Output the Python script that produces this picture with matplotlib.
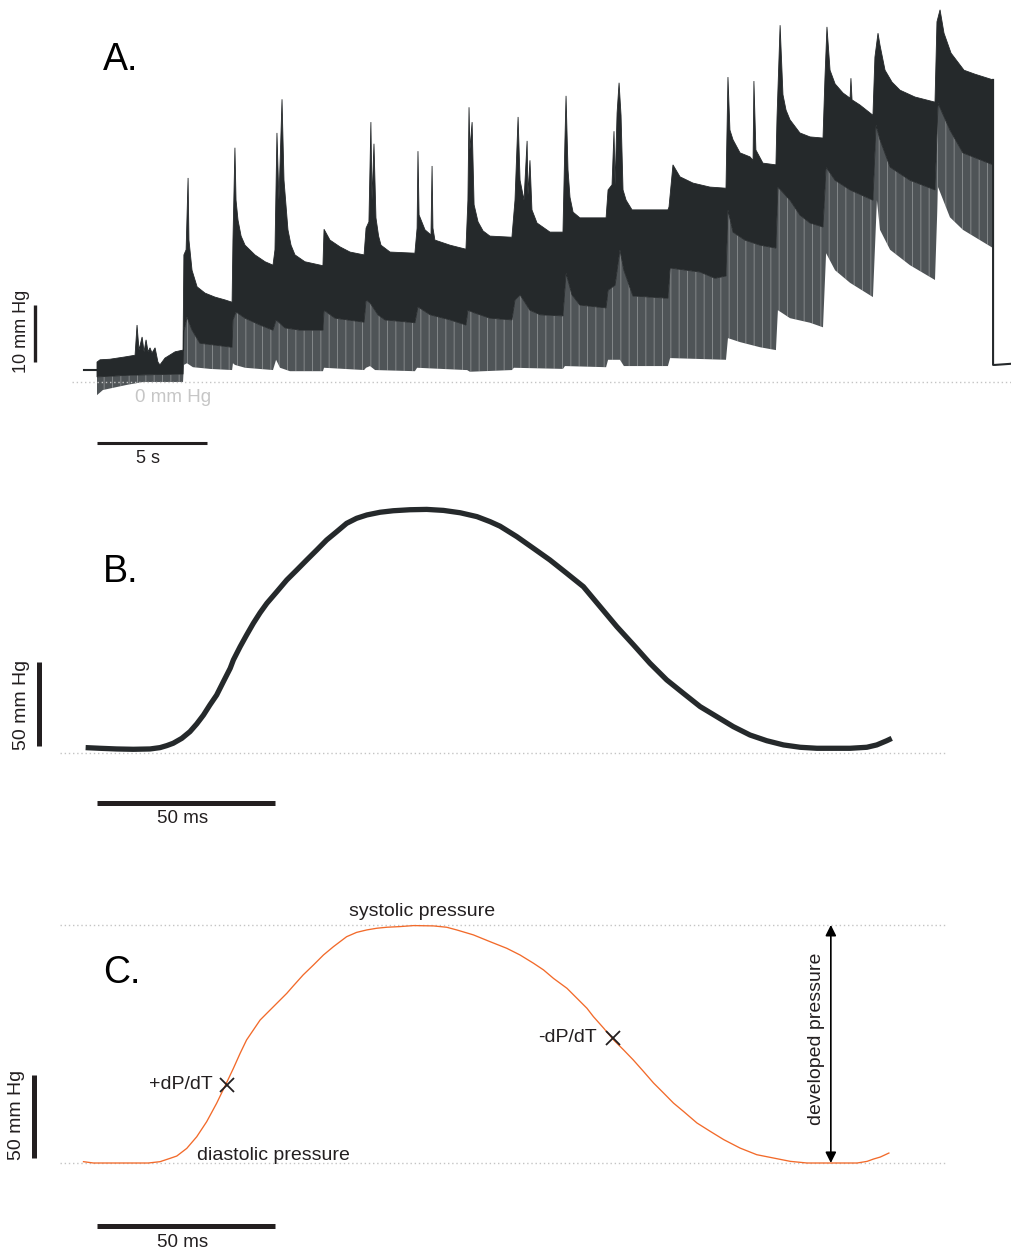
import numpy as np
import matplotlib
matplotlib.use("Agg")
import matplotlib.pyplot as plt

plt.rcParams['font.family'] = ['Liberation Sans', 'DejaVu Sans']
plt.rcParams['hatch.linewidth'] = 0.7

TRACE = '#25292b'
LOWER = '#4f5457'
TEXT = '#231f20'
DOTS = '#c4c4c4'
ORANGE = '#f26a2a'

# ---- panel A: long recording, envelopes of the beat-to-beat trace (s, mmHg)
top_t = [0.0, 0.14, 0.59, 1.27, 1.73, 1.82, 1.91, 2.05, 2.14, 2.23, 2.32, 2.41, 2.5, 2.64, 2.77, 2.86, 3.09, 3.55, 3.91,
         3.95, 4.05, 4.14, 4.18, 4.32, 4.55, 4.91, 5.36, 5.82, 6.14,
         6.18, 6.27, 6.32, 6.41, 6.55, 6.73, 7.18, 7.64, 8.0,
         8.09, 8.18, 8.27, 8.41, 8.5, 8.68, 8.82, 9.0, 9.45, 10.27,
         10.32, 10.59, 11.05, 11.5, 12.14,
         12.23, 12.36, 12.45, 12.5, 12.59, 12.68, 12.8, 12.91, 13.32, 14.45,
         14.55, 14.59, 14.64, 14.91, 15.18, 15.23, 15.27, 15.36, 16.05, 16.77,
         16.86, 16.91, 16.95, 17.05, 17.14, 17.32, 17.55, 17.86, 18.86,
         19.0, 19.14, 19.23, 19.41, 19.55, 19.59, 19.68, 19.77, 20.0, 20.59, 21.18,
         21.27, 21.32, 21.41, 21.5, 21.64, 21.95, 23.14,
         23.23, 23.41, 23.5, 23.55, 23.64, 23.73, 23.82, 23.91, 24.05, 24.32, 25.95,
         26.0, 26.18, 26.5, 27.09, 27.86, 28.59,
         28.68, 28.77, 28.91, 29.23, 29.68, 29.82, 29.86, 29.95, 30.27, 30.86,
         30.91, 31.05, 31.18, 31.32, 31.5, 31.95, 32.41, 33.0,
         33.09, 33.18, 33.32, 33.55, 33.91, 34.23, 34.27, 34.32, 34.68, 35.27,
         35.36, 35.5, 35.59, 35.82, 36.14, 36.5, 37.18, 38.09,
         38.18, 38.32, 38.5, 38.82, 39.41, 39.91, 40.73]
top_p = [3.5, 3.9, 4.0, 4.4, 4.7, 10.0, 5.6, 7.9, 5.3, 7.4, 5.3, 6.0, 5.1, 6.0, 3.5, 3.0, 4.2, 5.3, 5.6,
         22.3, 23.2, 35.8, 24.9, 19.6, 16.7, 15.6, 14.9, 14.4, 14.0,
         24.9, 41.1, 31.9, 28.4, 25.6, 24.0, 22.3, 21.1, 20.5,
         23.2, 43.7, 31.9, 49.6, 35.4, 26.7, 24.0, 22.3, 21.1, 20.4,
         26.8, 24.9, 23.7, 22.8, 22.3,
         27.0, 28.1, 45.6, 31.9, 41.8, 28.8, 25.6, 24.0, 22.8, 22.6,
         27.0, 40.5, 29.3, 26.7, 25.8, 37.9, 27.0, 24.9, 24.0, 23.3,
         31.9, 48.2, 40.7, 45.6, 31.1, 28.1, 26.5, 25.6, 25.4,
         31.9, 46.5, 35.4, 31.9, 42.3, 32.8, 38.9, 30.2, 27.9, 26.3, 26.3,
         42.5, 50.2, 37.2, 32.4, 29.8, 28.8, 28.8,
         33.7, 34.6, 44.0, 34.6, 47.2, 52.5, 46.8, 33.7, 31.9, 30.2, 30.2,
         30.7, 38.1, 36.0, 34.9, 34.2, 34.0,
         53.5, 44.2, 42.5, 40.2, 39.5, 38.9, 52.8, 40.7, 38.4, 38.1,
         46.5, 62.6, 50.4, 47.7, 46.0, 43.7, 43.0, 42.8,
         53.5, 62.3, 54.7, 52.3, 50.7, 49.8, 53.3, 49.5, 48.6, 46.8,
         57.0, 61.2, 59.1, 54.7, 52.6, 51.2, 50.0, 49.1,
         63.2, 65.3, 61.2, 57.7, 54.7, 54.0, 53.0]

mid_t = [0.0, 1.5, 3.91,
         3.95, 4.09, 4.32, 4.68, 6.14,
         6.18, 6.32, 6.73, 7.41, 8.0,
         8.14, 8.55, 9.23, 10.27,
         10.32, 10.82, 12.14,
         12.23, 12.41, 12.77, 13.09, 14.45,
         14.59, 15.14, 16.05, 16.77,
         16.86, 17.18, 17.86, 18.86,
         19.0, 19.23, 19.68, 20.14, 21.18,
         21.32, 21.59, 21.95, 23.14,
         23.23, 23.55, 23.77, 23.95, 24.36, 25.95,
         26.05, 27.41, 28.09, 28.59,
         28.68, 28.91, 29.45, 30.14, 30.86,
         30.95, 31.5, 31.95, 32.41, 33.0,
         33.14, 33.55, 34.23, 35.27,
         35.41, 35.59, 36.05, 36.95, 38.09,
         38.23, 38.77, 39.36, 40.73]
mid_p = [0.9, 1.2, 1.4,
         8.8, 11.4, 9.1, 6.8, 6.1,
         10.9, 12.3, 11.2, 10.0, 9.1,
         10.9, 9.5, 9.1, 9.1,
         12.6, 11.2, 10.5,
         14.4, 13.9, 11.8, 10.9, 10.4,
         13.2, 11.8, 10.9, 10.0,
         12.6, 12.1, 11.2, 10.9,
         14.4, 15.3, 12.6, 11.8, 11.6,
         19.1, 15.3, 13.5, 13.0,
         16.1, 17.0, 23.2, 19.6, 15.1, 14.7,
         20.0, 19.3, 18.2, 18.6,
         30.2, 26.3, 24.9, 24.0, 23.5,
         34.2, 31.9, 29.3, 27.9, 27.2,
         37.7, 35.4, 33.7, 31.9,
         45.1, 42.5, 37.7, 35.4, 33.7,
         48.9, 44.2, 40.2, 38.1]

bot_t = [0.0, 0.27, 1.36, 2.09, 3.91,
         3.95, 4.09, 4.36, 5.14, 6.14,
         6.18, 6.27, 6.73, 8.0,
         8.14, 8.32, 8.77, 10.27,
         10.32, 12.14,
         12.23, 12.41, 12.64, 14.45,
         14.55, 16.77,
         16.82, 16.95, 18.86,
         18.95, 21.18,
         21.27, 23.14,
         23.23, 23.77, 23.95, 25.95,
         26.05, 28.59,
         28.68, 29.23, 30.14, 30.86,
         30.95, 31.5, 32.41, 33.0,
         33.14, 33.55, 34.23, 35.27,
         35.45, 35.59, 36.05, 36.95, 38.09,
         38.23, 38.77, 39.36, 40.73]
bot_p = [-2.3, -1.4, -0.5, 0.0, 0.0,
         3.0, 3.3, 2.6, 2.3, 2.1,
         3.3, 3.0, 2.5, 2.1,
         3.9, 2.5, 1.9, 1.9,
         2.5, 2.1,
         2.5, 2.8, 2.1, 1.9,
         2.5, 2.1,
         2.1, 1.8, 2.1,
         2.5, 2.3,
         2.8, 2.6,
         3.9, 3.9, 2.8, 2.8,
         4.2, 3.9,
         7.7, 7.0, 6.1, 5.6,
         12.6, 11.2, 10.4, 9.6,
         22.6, 19.6, 17.4, 14.9,
         31.9, 26.7, 23.2, 20.5, 17.9,
         34.2, 28.9, 26.7, 23.5]

lead_t = [-0.59, 0.0]
lead_p = [2.1, 2.1]
tail_t = [40.73, 40.73, 40.82, 41.55]
tail_p = [53.0, 3.0, 3.0, 3.2]

# ---- panel B: overlaid beats (ms, mmHg)
beat_b_t = [-3.2, 0.8, 5.5, 10.2, 14.9, 17.7, 19.6, 21.4, 23.8, 26.1, 28.0, 29.9, 31.7, 33.6, 35.5, 37.4,
            38.3, 40.2, 42.0, 43.9, 45.8, 47.7, 50.5, 53.3, 56.1, 58.9, 61.7, 64.5, 67.3, 70.1, 72.9,
            75.8, 79.5, 83.2, 87.9, 92.6, 97.3, 102.0, 106.7, 110.4, 113.2, 117.9, 122.6, 127.2, 131.9,
            136.6, 141.3, 146.0, 150.7, 155.3, 160.0, 164.7, 169.4, 174.1, 178.7, 183.4, 188.1, 192.8,
            197.5, 202.2, 211.5, 216.2, 219.0, 221.8, 223.2]
beat_b_p = [3.2, 2.8, 2.4, 2.2, 2.4, 3.2, 4.4, 5.8, 8.7, 12.7, 17.3, 22.6, 28.6, 34.5, 42.5, 50.4,
            55.4, 63.3, 70.2, 77.2, 83.5, 89.1, 96.0, 103.0, 108.9, 114.9, 120.8, 126.8, 131.7, 136.7, 139.7,
            141.7, 143.3, 144.2, 144.8, 145.0, 144.4, 143.0, 140.7, 137.7, 135.0, 128.8, 121.8, 114.9, 107.0,
            99.0, 87.1, 75.2, 64.3, 53.4, 43.5, 35.5, 27.6, 21.6, 15.7, 10.7, 7.3, 4.8,
            3.4, 2.8, 2.8, 3.4, 4.8, 7.3, 8.7]

# ---- panel C: one beat with annotations (ms, mmHg)
beat_c_t = [-3.8, -1.0, 14.4, 17.7, 20.5, 22.4, 25.2, 28.0, 30.8, 33.6, 36.4, 38.3, 40.2, 42.0, 43.9,
            45.8, 47.7, 50.5, 53.3, 55.1, 57.9, 60.8, 63.6, 66.4, 70.1, 72.9, 75.8, 78.6, 81.4, 85.1,
            88.9, 94.5, 98.2, 101.0, 105.7, 110.4, 115.1, 118.8, 122.6, 125.4, 128.2, 132.0, 134.8,
            137.6, 139.4, 142.3, 145.1, 147.9, 150.6, 153.5, 156.3, 159.1, 161.9, 164.7, 168.5, 172.2,
            176.0, 180.6, 185.3, 190.0, 194.7, 199.4, 213.5, 216.3, 218.1, 220.0, 222.4]
beat_c_p = [0.8, 0.0, 0.0, 0.8, 2.8, 4.2, 8.8, 15.8, 24.9, 36.0, 48.4, 57.0, 66.1, 74.1, 80.1,
            86.1, 90.2, 96.2, 102.2, 106.6, 113.3, 119.3, 125.3, 130.3, 136.3, 138.9, 140.4, 141.4, 142.0, 142.4,
            143.0, 142.8, 142.0, 140.4, 137.4, 133.3, 129.3, 125.3, 120.3, 116.3, 111.2, 105.2, 99.2,
            93.2, 88.2, 81.2, 74.1, 68.1, 62.1, 55.1, 48.2, 42.2, 36.1, 31.1, 24.1, 19.1,
            14.1, 9.0, 5.0, 3.0, 1.0, 0.0, 0.0, 1.0, 2.4, 3.6, 6.0]

systolic = 143.4
diastolic = 0.0
dpdt_max = (36.4, 47.0)
dpdt_min = (144.9, 75.5)

fig = plt.figure(figsize=(10.11, 12.52), dpi=100)
H = 1252.0

axA = fig.add_axes([0, 1 - 480 / H, 1, 480 / H])
axB = fig.add_axes([0, 1 - 860 / H, 1, 380 / H])
axC = fig.add_axes([0, 0, 1, 392 / H])

# panel A
axA.set_xlim(-4.409, 41.545)
axA.set_ylim(-17.19, 67.02)
axA.axis('off')
axA.plot([-1.14, 41.55], [0, 0], color=DOTS, lw=1, ls=(0, (1, 2)))
lower_x = np.r_[mid_t, bot_t[::-1]]
lower_y = np.r_[mid_p, bot_p[::-1]]
axA.fill(lower_x, lower_y, color=LOWER, lw=0)
axA.fill(lower_x, lower_y, facecolor='none', edgecolor=(1, 1, 1, 0.3), hatch='||', lw=0)
axA.fill(np.r_[top_t, mid_t[::-1]], np.r_[top_p, mid_p[::-1]], color=TRACE, lw=0.6, ec=TRACE)
axA.plot(lead_t, lead_p, color=TRACE, lw=1.5)
axA.plot(tail_t, tail_p, color=TRACE, lw=1.5)

axA.text(0.27, 54.7, 'A.', fontsize=27, color='black', va='baseline', ha='left')
axA.plot([-2.82, -2.82], [3.5, 13.5], color=TEXT, lw=2.4, solid_capstyle='butt')
axA.text(-3.45, 8.9, '10 mm Hg', rotation=90, fontsize=13, ha='center', va='center', color=TEXT)
axA.text(1.73, -2.8, '0 mm Hg', fontsize=13.5, color='#c6c6c6', ha='left', va='center')
axA.plot([0, 5], [-10.7, -10.7], color=TEXT, lw=2.2, solid_capstyle='butt')
axA.text(2.32, -13.4, '5 s', fontsize=13, ha='center', va='center', color=TEXT)

for ax, top, bot in [(axB, 162.5, -63.7), (axC, 182.5, -53.6)]:
    ax.set_xlim(-27.25, 256.7)
    ax.set_ylim(bot, top)
    ax.axis('off')

# panel B
axB.plot([-10.4, 238.2], [0, 0], color=DOTS, lw=1, ls=(0, (1, 2)))
axB.plot(beat_b_t, beat_b_p, color=TRACE, lw=3.8, solid_capstyle='butt', solid_joinstyle='round')
axB.text(1.7, 101.8, 'B.', fontsize=27, color='black', va='baseline', ha='left')
axB.plot([-16.3, -16.3], [4.2, 54.2], color=TEXT, lw=3.6, solid_capstyle='butt')
axB.text(-21.1, 28.6, '50 mm Hg', rotation=90, fontsize=14, ha='center', va='center', color=TEXT)
axB.plot([0, 50], [-29.8, -29.8], color=TEXT, lw=3.6, solid_capstyle='butt')
axB.text(23.9, -38.9, '50 ms', fontsize=13.5, ha='center', va='center', color=TEXT)

# panel C
axC.plot([-10.4, 238.2], [diastolic, diastolic], color=DOTS, lw=1, ls=(0, (1, 2)))
axC.plot([-10.4, 238.2], [systolic, systolic], color=DOTS, lw=1, ls=(0, (1, 2)))
axC.plot(beat_c_t, beat_c_p, color=ORANGE, lw=0.95)
axC.text(1.7, 108.4, 'C.', fontsize=27, color='black', va='baseline', ha='left')
axC.plot([-17.6, -17.6], [3.0, 53.0], color=TEXT, lw=3.6, solid_capstyle='butt')
axC.text(-22.5, 28.9, '50 mm Hg', rotation=90, fontsize=14, ha='center', va='center', color=TEXT)
axC.plot([0, 50], [-38.0, -38.0], color=TEXT, lw=3.6, solid_capstyle='butt')
axC.text(23.9, -47.6, '50 ms', fontsize=13.5, ha='center', va='center', color=TEXT)

axC.plot(*dpdt_max, marker='x', ms=10, mew=1.3, color=TEXT)
axC.plot(*dpdt_min, marker='x', ms=10, mew=1.3, color=TEXT)
axC.text(32.6, 47.0, '+dP/dT', fontsize=14, ha='right', va='center', color=TEXT)
axC.text(140.4, 75.3, '-dP/dT', fontsize=14, ha='right', va='center', color=TEXT)
axC.text(91.4, 151.4, 'systolic pressure', fontsize=14, ha='center', va='center', color=TEXT)
axC.text(28.1, 4.8, 'diastolic pressure', fontsize=14, ha='left', va='center', color=TEXT)

axC.annotate('', xy=(206.1, systolic), xytext=(206.1, diastolic),
             arrowprops=dict(arrowstyle='<|-|>', color='black', lw=1.2, mutation_scale=16,
                             shrinkA=0, shrinkB=0))
axC.text(202.2, 74.7, 'developed pressure', rotation=90, fontsize=14, ha='center', va='center', color=TEXT)

fig.savefig('out.png', dpi=100)
